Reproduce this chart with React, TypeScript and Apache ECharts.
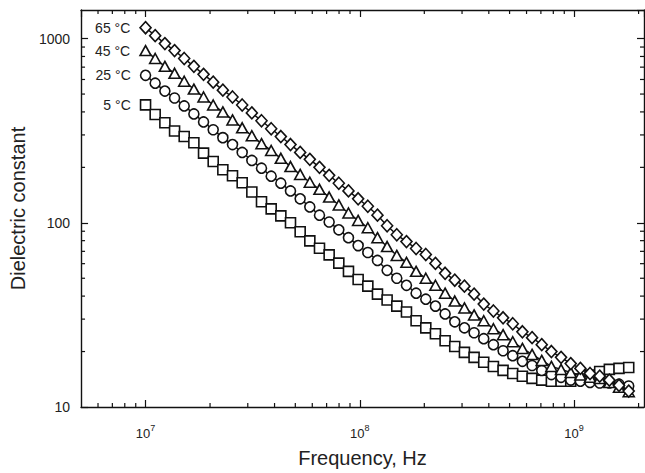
import React, { useEffect, useRef } from 'react';
import * as echarts from 'echarts';

// Frequency sweep (Hz)
const freqHz = [
  1.000e7, 1.109e7, 1.231e7, 1.366e7, 1.515e7, 1.681e7, 1.865e7, 2.069e7, 2.295e7, 2.546e7,
  2.825e7, 3.134e7, 3.477e7, 3.858e7, 4.280e7, 4.748e7, 5.268e7, 5.844e7, 6.484e7, 7.193e7,
  7.980e7, 8.853e7, 9.822e7, 1.090e8, 1.209e8, 1.341e8, 1.488e8, 1.651e8, 1.831e8, 2.032e8,
  2.254e8, 2.501e8, 2.774e8, 3.078e8, 3.415e8, 3.788e8, 4.203e8, 4.663e8, 5.173e8, 5.739e8,
  6.368e8, 7.064e8, 7.837e8, 8.695e8, 9.647e8, 1.070e9, 1.187e9, 1.317e9, 1.461e9, 1.621e9,
  1.799e9,
];

const eps5C = [
  437, 387, 349, 315, 294, 272, 239, 215, 194, 180, 165, 147, 130, 119, 109, 100, 89.5, 79.8,
  72.8, 67.0, 60.4, 54.5, 49.2, 45.3, 41.0, 38.1, 35.3, 32.8, 29.4, 26.9, 25.0, 22.9, 21.3,
  19.8, 18.6, 17.5, 16.6, 15.8, 15.2, 14.7, 14.3, 14.0, 13.8, 13.8, 13.8, 14.2, 14.9, 15.6,
  16.0, 16.2, 16.4,
];
const eps25C = [
  632, 573, 519, 476, 431, 390, 353, 320, 290, 266, 241, 218, 198, 179, 164, 149, 135, 122,
  110, 101, 91.6, 83.0, 75.2, 69.0, 62.5, 55.2, 50.0, 45.8, 41.5, 38.5, 35.3, 32.0, 29.0,
  26.9, 25.3, 23.5, 21.8, 20.2, 19.0, 17.7, 16.8, 15.8, 15.0, 14.5, 14.0, 13.8, 13.6, 13.5,
  13.5, 13.3, 13.0,
];
const eps45C = [
  861, 780, 707, 648, 587, 532, 482, 436, 400, 362, 328, 297, 269, 247, 224, 202, 183, 166,
  152, 138, 125, 113, 103, 94.0, 83.0, 74.3, 66.5, 61.0, 54.5, 50.0, 45.8, 41.5, 37.6, 34.5,
  31.6, 29.4, 26.6, 24.7, 22.6, 20.8, 19.3, 17.9, 16.6, 16.0, 15.4, 14.9, 14.5, 14.3, 13.6,
  12.8, 12.1,
];
const eps65C = [
  1146, 1038, 940, 861, 780, 707, 640, 580, 525, 482, 436, 395, 358, 324, 294, 266, 241, 221,
  200, 181, 164, 149, 135, 123, 110, 96.4, 86.1, 79.1, 72.5, 67.3, 60.2, 53.2, 48.8, 45.3,
  41.0, 36.2, 33.2, 30.5, 28.3, 25.6, 23.8, 21.8, 20.0, 18.6, 17.2, 16.2, 15.2, 14.7, 14.0,
  13.1, 12.2,
];

const seriesLabels = ['5 °C', '25 °C', '45 °C', '65 °C'];
const seriesValues = [eps5C, eps25C, eps45C, eps65C];
const seriesSymbols = ['rect', 'circle', 'triangle', 'diamond'];
const seriesSymbolSizes: any[] = [10, 10, [11, 10], [11, 12]];

const xMinorTicks = [
  6e6, 7e6, 8e6, 9e6,
  2e7, 3e7, 4e7, 5e7, 6e7, 7e7, 8e7, 9e7,
  2e8, 3e8, 4e8, 5e8, 6e8, 7e8, 8e8, 9e8,
  2e9,
];
const yMinorTicks = [20, 30, 40, 50, 60, 70, 80, 90, 200, 300, 400, 500, 600, 700, 800, 900];

const X_MIN = 5e6;
const X_MAX = 2.12e9;
const Y_MIN = 10;
const Y_MAX = 1430;

const FONT = '"Liberation Sans", Arial, Helvetica, sans-serif';
const INK = '#111';
const TEXT = '#222';

function isPow10(v: number) {
  const l = Math.log10(v);
  return Math.abs(l - Math.round(l)) < 1e-6;
}

export default function App() {
  const ref = useRef<HTMLDivElement>(null);

  useEffect(() => {
    if (!ref.current) return;
    const chart = echarts.init(ref.current, undefined, { renderer: 'svg' });

    const axisLine = { show: true, lineStyle: { color: INK, width: 1.4 } };
    const majorTick = { show: true, inside: true, length: 7, lineStyle: { color: INK, width: 1.2 } };

    const lineSeries = seriesValues.map((vals, si) => ({
      type: 'line',
      name: seriesLabels[si],
      xAxisIndex: 0,
      yAxisIndex: 0,
      symbol: seriesSymbols[si],
      symbolSize: seriesSymbolSizes[si],
      showAllSymbol: true,
      z: 3 + si,
      lineStyle: { color: INK, width: 1.5 },
      itemStyle: { color: '#fff', borderColor: INK, borderWidth: 1.6 },
      emphasis: { disabled: true },
      data: freqHz.map((f, i) =>
        i === 0
          ? {
              value: [f, vals[i]],
              label: {
                show: true,
                position: 'left',
                distance: 9,
                formatter: seriesLabels[si],
                color: TEXT,
                fontSize: 14,
                fontFamily: FONT,
              },
            }
          : [f, vals[i]]
      ),
    }));

    const tickStyle = { stroke: INK, lineWidth: 1.2 };

    const option: any = {
      animation: false,
      backgroundColor: '#fff',
      grid: { left: 73, top: 10, width: 571, height: 402, containLabel: false },
      xAxis: [
        {
          type: 'log',
          min: X_MIN,
          max: X_MAX,
          position: 'bottom',
          axisLine,
          axisTick: majorTick,
          splitLine: { show: false },
          axisLabel: {
            margin: 16,
            showMinLabel: false,
            showMaxLabel: false,
            formatter: (v: number) => (isPow10(v) ? `{b|10}{s|${Math.round(Math.log10(v))}}` : ''),
            rich: {
              b: { fontSize: 13, fontFamily: FONT, color: TEXT, lineHeight: 17, verticalAlign: 'bottom' },
              s: { fontSize: 9, fontFamily: FONT, color: TEXT, lineHeight: 9, verticalAlign: 'top' },
            },
          },
          name: 'Frequency, Hz',
          nameLocation: 'middle',
          nameGap: 41,
          nameTextStyle: { fontSize: 20, fontFamily: FONT, color: TEXT },
        },
        {
          type: 'log',
          min: X_MIN,
          max: X_MAX,
          position: 'top',
          axisLine,
          axisTick: majorTick,
          splitLine: { show: false },
          axisLabel: { show: false },
        },
      ],
      yAxis: [
        {
          type: 'log',
          min: Y_MIN,
          max: Y_MAX,
          position: 'left',
          axisLine,
          axisTick: majorTick,
          splitLine: { show: false },
          axisLabel: {
            margin: 11,
            showMaxLabel: false,
            fontSize: 14,
            fontFamily: FONT,
            color: TEXT,
            formatter: (v: number) => (isPow10(v) ? String(Math.round(v)) : ''),
          },
          name: 'Dielectric constant',
          nameLocation: 'middle',
          nameGap: 41,
          nameTextStyle: { fontSize: 20, fontFamily: FONT, color: TEXT },
        },
        {
          type: 'log',
          min: Y_MIN,
          max: Y_MAX,
          position: 'right',
          axisLine,
          axisTick: majorTick,
          splitLine: { show: false },
          axisLabel: { show: false },
        },
      ],
      series: [
        {
          type: 'custom',
          xAxisIndex: 0,
          yAxisIndex: 0,
          silent: true,
          z: 1,
          data: xMinorTicks.map((v) => [v, Y_MIN]),
          renderItem: (_p: any, api: any) => {
            const v = api.value(0);
            const b = api.coord([v, Y_MIN]);
            const t = api.coord([v, Y_MAX]);
            return {
              type: 'group',
              children: [
                { type: 'line', shape: { x1: b[0], y1: b[1], x2: b[0], y2: b[1] - 4 }, style: tickStyle },
                { type: 'line', shape: { x1: t[0], y1: t[1], x2: t[0], y2: t[1] + 4 }, style: tickStyle },
              ],
            };
          },
        },
        {
          type: 'custom',
          xAxisIndex: 0,
          yAxisIndex: 0,
          silent: true,
          z: 1,
          data: yMinorTicks.map((v) => [X_MIN, v]),
          renderItem: (_p: any, api: any) => {
            const v = api.value(1);
            const l = api.coord([X_MIN, v]);
            const r = api.coord([X_MAX, v]);
            return {
              type: 'group',
              children: [
                { type: 'line', shape: { x1: l[0], y1: l[1], x2: l[0] + 4, y2: l[1] }, style: tickStyle },
                { type: 'line', shape: { x1: r[0], y1: r[1], x2: r[0] - 4, y2: r[1] }, style: tickStyle },
              ],
            };
          },
        },
        ...lineSeries,
      ],
    };

    chart.setOption(option);
    return () => chart.dispose();
  }, []);

  return (
    <div
      ref={ref}
      style={{ position: 'fixed', left: 0, top: 0, width: 645, height: 473, background: '#fff' }}
    />
  );
}
